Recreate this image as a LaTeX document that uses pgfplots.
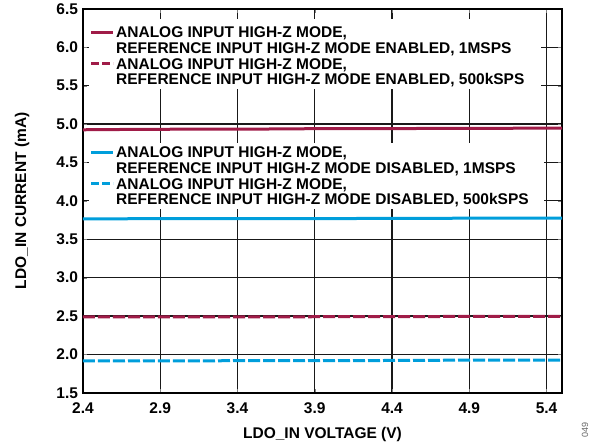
\documentclass[border=0pt]{standalone}
\usepackage{fontspec}
\setmainfont{Liberation Sans}
\usepackage{pgfplots}
\pgfplotsset{compat=1.18}
\definecolor{adired}{RGB}{160,28,72}
\definecolor{adiblue}{RGB}{0,158,219}
\newcommand{\lfont}{\fontsize{15.5}{16}\selectfont\bfseries}

\begin{document}
\begin{tikzpicture}
\begin{axis}[
  scale only axis, width=479pt, height=384pt,
  xmin=2.4, xmax=5.5, ymin=1.5, ymax=6.5,
  xmajorgrids, ymajorgrids,
  every axis grid/.style={black!90, line width=1.2pt},
  axis line style={line width=1.6pt},
  xtick={2.4,2.9,3.4,3.9,4.4,4.9,5.4},
  xticklabels={2.4,2.9,3.4,3.9,4.4,4.9,5.4},
  ytick={1.5,2.0,2.5,3.0,3.5,4.0,4.5,5.0,5.5,6.0,6.5},
  yticklabels={1.5,2.0,2.5,3.0,3.5,4.0,4.5,5.0,5.5,6.0,6.5},
  ticklabel style={font=\lfont},
  xticklabel style={yshift=-6pt},
  yticklabel style={xshift=-1.5pt},
  xlabel={LDO\_IN VOLTAGE (V)}, ylabel={LDO\_IN CURRENT (mA)},
  label style={font=\lfont},
  xlabel style={at={(axis description cs:0.5,0)}, anchor=base, yshift=-46pt},
  ylabel style={at={(axis description cs:0,0.5)}, anchor=center, yshift=61pt},
]
\addplot[adired, line width=3pt] coordinates {
 (2.4,4.925) (2.6,4.928) (2.8,4.931) (3.0,4.932) (3.2,4.933) (3.4,4.933)
 (3.6,4.935) (3.8,4.938) (4.0,4.940) (4.2,4.940) (4.4,4.940) (4.6,4.942)
 (4.8,4.942) (5.0,4.943) (5.2,4.945) (5.5,4.947)};
\addplot[adired, line width=3pt, dash pattern=on 12pt off 3pt] coordinates {
 (2.4,2.488) (2.6,2.488) (2.8,2.489) (3.0,2.489) (3.2,2.489) (3.4,2.490)
 (3.6,2.490) (3.8,2.490) (4.0,2.491) (4.2,2.492) (4.4,2.493) (4.6,2.493)
 (4.8,2.494) (5.0,2.494) (5.2,2.495) (5.5,2.495)};
\addplot[adiblue, line width=3pt] coordinates {
 (2.4,3.766) (2.6,3.766) (2.8,3.767) (3.0,3.767) (3.2,3.767) (3.4,3.767)
 (3.6,3.768) (3.8,3.768) (4.0,3.768) (4.2,3.770) (4.4,3.772) (4.6,3.772)
 (4.8,3.773) (5.0,3.773) (5.2,3.774) (5.5,3.774)};
\addplot[adiblue, line width=3pt, dash pattern=on 12pt off 3pt] coordinates {
 (2.4,1.916) (2.6,1.916) (2.8,1.917) (3.0,1.917) (3.2,1.917) (3.4,1.918)
 (3.6,1.918) (3.8,1.918) (4.0,1.919) (4.2,1.920) (4.4,1.921) (4.6,1.922)
 (4.8,1.925) (5.0,1.926) (5.2,1.926) (5.5,1.927)};
% legend 1
\fill[white] (axis cs:2.4388,6.3698) rectangle (axis cs:5.3644,5.4583);
\draw[adired, line width=3pt] (axis cs:2.4518,6.1940) -- (axis cs:2.5942,6.1940);
\draw[adired, line width=3pt, dash pattern=on 8pt off 3pt] (axis cs:2.4518,5.7839) -- (axis cs:2.5942,5.7839);
\node[anchor=base west, inner sep=0pt, font=\lfont] at ([xshift=33pt,yshift=-29pt]rel axis cs:0,1) {ANALOG INPUT HIGH-Z MODE,};
\node[anchor=base west, inner sep=0pt, font=\lfont] at ([xshift=33pt,yshift=-44.7pt]rel axis cs:0,1) {REFERENCE INPUT HIGH-Z MODE ENABLED, 1MSPS};
\node[anchor=base west, inner sep=0pt, font=\lfont] at ([xshift=33pt,yshift=-60.4pt]rel axis cs:0,1) {ANALOG INPUT HIGH-Z MODE,};
\node[anchor=base west, inner sep=0pt, font=\lfont] at ([xshift=33pt,yshift=-76pt]rel axis cs:0,1) {REFERENCE INPUT HIGH-Z MODE ENABLED, 500kSPS};
% legend 2
\fill[white] (axis cs:2.4388,4.7552) rectangle (axis cs:5.3838,3.8958);
\draw[adiblue, line width=3pt] (axis cs:2.4518,4.6250) -- (axis cs:2.5942,4.6250);
\draw[adiblue, line width=3pt, dash pattern=on 8pt off 3pt] (axis cs:2.4518,4.2214) -- (axis cs:2.5942,4.2214);
\node[anchor=base west, inner sep=0pt, font=\lfont] at ([xshift=33pt,yshift=-149pt]rel axis cs:0,1) {ANALOG INPUT HIGH-Z MODE,};
\node[anchor=base west, inner sep=0pt, font=\lfont] at ([xshift=33pt,yshift=-164.7pt]rel axis cs:0,1) {REFERENCE INPUT HIGH-Z MODE DISABLED, 1MSPS};
\node[anchor=base west, inner sep=0pt, font=\lfont] at ([xshift=33pt,yshift=-180.4pt]rel axis cs:0,1) {ANALOG INPUT HIGH-Z MODE,};
\node[anchor=base west, inner sep=0pt, font=\lfont] at ([xshift=33pt,yshift=-196pt]rel axis cs:0,1) {REFERENCE INPUT HIGH-Z MODE DISABLED, 500kSPS};
\end{axis}
\node[rotate=90, font=\fontsize{9}{10}\selectfont, text=black!60] at (502pt,-37pt) {049};
\path[use as bounding box] (-83pt,-55pt) rectangle (517pt,391pt);
\end{tikzpicture}
\end{document}
